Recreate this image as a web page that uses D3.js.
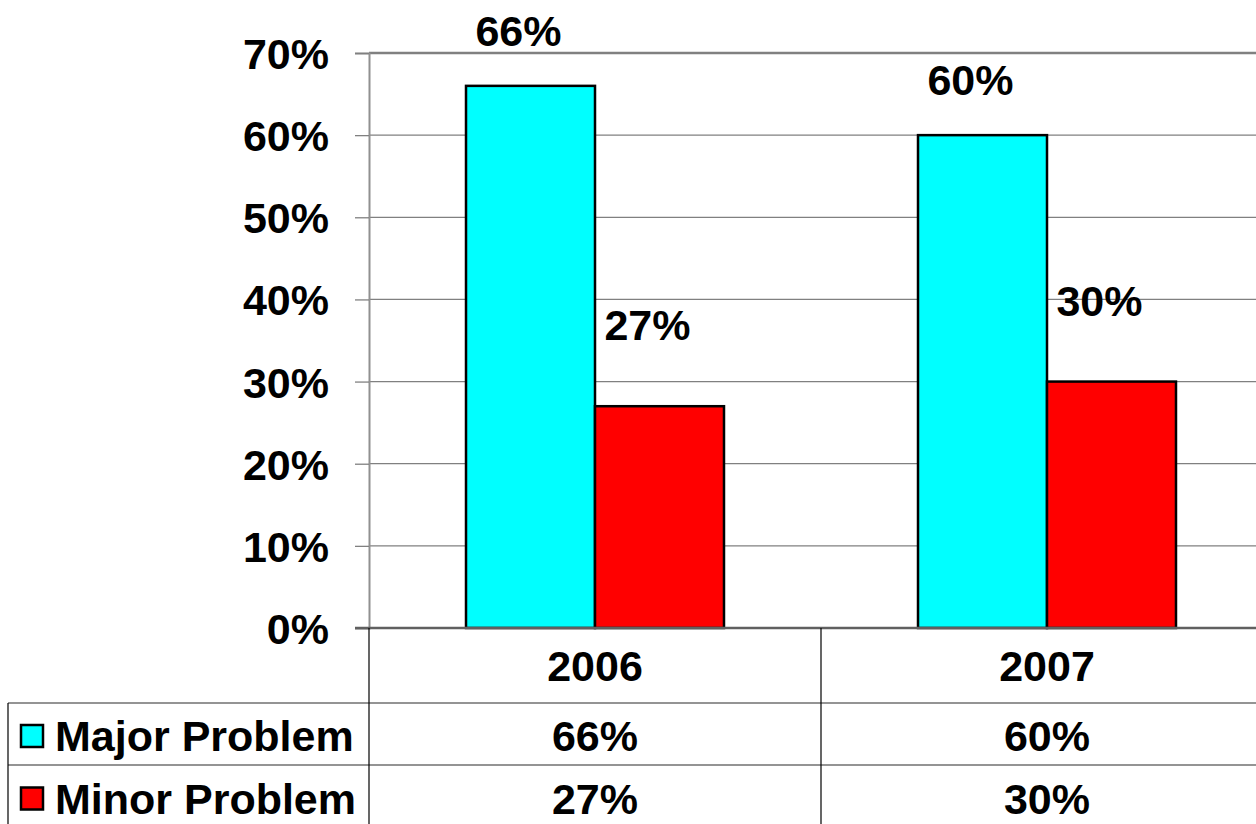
<!DOCTYPE html>
<html><head><meta charset="utf-8">
<script src="https://cdn.jsdelivr.net/npm/d3@7"></script>
<style>body{margin:0;background:#fff;overflow:hidden}svg{display:block}text{font-family:"Liberation Sans",Arial,sans-serif;font-weight:bold;fill:#000}</style>
</head><body>
<svg id="c" width="1256" height="824"></svg>
<script>
const categories = ["2006", "2007"];
const seriesNames = ["Major Problem", "Minor Problem"];
const majorValues = [0.66, 0.60];
const minorValues = [0.27, 0.30];
const yTicks = [0, 0.1, 0.2, 0.3, 0.4, 0.5, 0.6, 0.7];
const seriesColors = ["#00FFFF", "#FF0000"];
const labelOffsets = [40, 66];

(function () {
const values = [majorValues, minorValues];
const svg = d3.select("#c");
const W = 1256, H = 824;
const pLeft = 369, pRight = 1273, pTop = 53, pBottom = 628;
const rowTops = [628, 703, 765, 828];
const tableLeft = 8;
const fs = 43;

const y = d3.scaleLinear().domain([0, 0.7]).range([pBottom, pTop]);
const x0 = d3.scaleBand().domain(categories).range([pLeft, pRight]).padding(0);
const x1 = d3.scaleBand().domain(seriesNames).range([0, x0.bandwidth()]).paddingInner(0).paddingOuter(0.752);
const fmt = d3.format(".0%");

// grid lines
svg.append("g").selectAll("line").data(yTicks.filter(d => d > 0)).join("line")
  .attr("x1", pLeft).attr("x2", W).attr("y1", d => y(d)).attr("y2", d => y(d))
  .attr("stroke", "#808080").attr("stroke-width", d => d === 0.7 ? 2.5 : 1.3);

// y axis
const yAxis = d3.axisLeft(y).tickValues(yTicks).tickFormat(fmt).tickSize(14).tickPadding(26);
const gy = svg.append("g").attr("transform", `translate(${pLeft},0)`).call(yAxis);
gy.select(".domain").attr("stroke", "#909090").attr("stroke-width", 2);
gy.selectAll(".tick line").attr("stroke", "#808080").attr("stroke-width", 1.3);
gy.selectAll(".tick text").attr("font-size", fs).attr("font-family", '"Liberation Sans",Arial,sans-serif').attr("font-weight", "bold").attr("fill", "#000").attr("dy", "0.36em");

// bars
const groups = svg.append("g").selectAll("g").data(categories).join("g")
  .attr("transform", d => `translate(${x0(d)},0)`);
groups.selectAll("rect").data((c, ci) => seriesNames.map((s, si) => ({s, si, v: values[si][ci]}))).join("rect")
  .attr("x", d => x1(d.s)).attr("width", x1.bandwidth())
  .attr("y", d => y(d.v)).attr("height", d => y(0) - y(d.v))
  .attr("fill", d => seriesColors[d.si]).attr("stroke", "#000").attr("stroke-width", 2.5);
groups.selectAll("text.val").data((c, ci) => seriesNames.map((s, si) => ({s, si, v: values[si][ci]}))).join("text")
  .attr("class", "val")
  .attr("x", d => x1(d.s) + x1.bandwidth() / 2 - 12)
  .attr("y", d => y(d.v) - labelOffsets[d.si])
  .attr("text-anchor", "middle").attr("font-size", fs)
  .text(d => fmt(d.v));

// x axis line
svg.append("line").attr("x1", pLeft - 14).attr("x2", W).attr("y1", pBottom).attr("y2", pBottom)
  .attr("stroke", "#606060").attr("stroke-width", 2.5);

// table
const tg = svg.append("g");
[rowTops[1], rowTops[2]].forEach(yy => {
  tg.append("line").attr("x1", tableLeft).attr("x2", W).attr("y1", yy).attr("y2", yy)
    .attr("stroke", "#707070").attr("stroke-width", 1.3);
});
tg.append("line").attr("x1", tableLeft).attr("x2", tableLeft).attr("y1", rowTops[1]).attr("y2", H).attr("stroke", "#000").attr("stroke-width", 1.2);
categories.forEach(c => {
  tg.append("line").attr("x1", x0(c)).attr("x2", x0(c)).attr("y1", pBottom).attr("y2", H).attr("stroke", "#000").attr("stroke-width", 1.2);
});
tg.selectAll("text.cat").data(categories).join("text").attr("class", "cat")
  .attr("x", d => x0(d) + x0.bandwidth() / 2).attr("y", (rowTops[0] + rowTops[1]) / 2)
  .attr("dy", "0.36em").attr("text-anchor", "middle").attr("font-size", fs).text(d => d);
seriesNames.forEach((s, si) => {
  const cy = (rowTops[si + 1] + rowTops[si + 2]) / 2 + 2;
  tg.append("rect").attr("x", 21).attr("y", cy - 11).attr("width", 22).attr("height", 22)
    .attr("fill", seriesColors[si]).attr("stroke", "#000").attr("stroke-width", 2.5);
  tg.append("text").attr("x", 55).attr("y", cy).attr("dy", "0.36em").attr("font-size", fs).text(s);
  categories.forEach((c, ci) => {
    tg.append("text").attr("x", x0(c) + x0.bandwidth() / 2).attr("y", cy)
      .attr("dy", "0.36em").attr("text-anchor", "middle").attr("font-size", fs).text(fmt(values[si][ci]));
  });
});
})();
</script>
</body></html>
